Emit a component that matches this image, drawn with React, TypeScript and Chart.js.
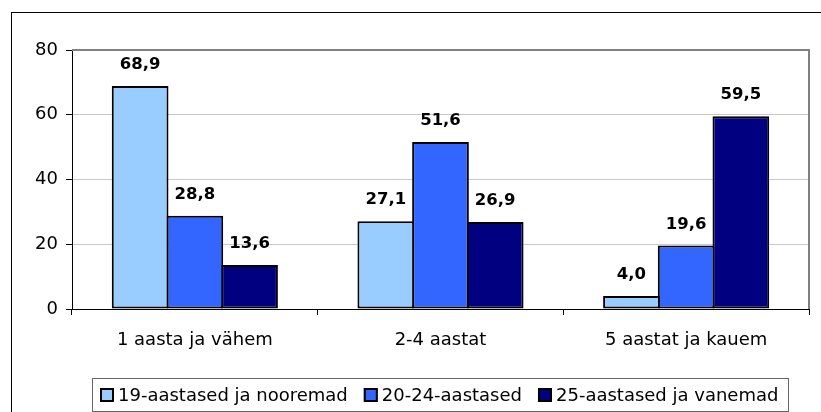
import React, { useEffect, useRef } from "react";
import { Chart, registerables } from "chart.js";

Chart.register(...registerables);

const categories = ["1 aasta ja vähem", "2-4 aastat", "5 aastat ja kauem"];
const seriesLabels = ["19-aastased ja nooremad", "20-24-aastased", "25-aastased ja vanemad"];
const youngValues = [68.9, 27.1, 4.0];
const midValues = [28.8, 51.6, 19.6];
const oldValues = [13.6, 26.9, 59.5];
const seriesColors = ["#99CCFF", "#3366FF", "#000080"];
const yMin = 0;
const yMax = 80;
const yStep = 20;

const FONT = "'DejaVu Sans', 'Liberation Sans', Arial, sans-serif";

const fmt = (v: number) => v.toFixed(1).replace(".", ",");

const framePlugin = {
  id: "frame",
  beforeDraw(chart: any) {
    const { ctx, width, height } = chart;
    ctx.save();
    ctx.fillStyle = "#fff";
    ctx.fillRect(0, 0, width, height);
    ctx.strokeStyle = "#000";
    ctx.lineWidth = 1;
    ctx.strokeRect(11.5, 12.5, width + 20, height + 20);
    ctx.restore();
  },
  beforeDatasetsDraw(chart: any) {
    const { ctx, chartArea } = chart;
    ctx.save();
    ctx.strokeStyle = "#808080";
    ctx.lineWidth = 2;
    ctx.beginPath();
    ctx.moveTo(chartArea.left, chartArea.top);
    ctx.lineTo(chartArea.right, chartArea.top);
    ctx.lineTo(chartArea.right, chartArea.bottom);
    ctx.stroke();
    ctx.restore();
  },
};

const labelPlugin = {
  id: "valueLabels",
  afterDatasetsDraw(chart: any) {
    const { ctx } = chart;
    ctx.save();
    ctx.font = `bold 16.5px ${FONT}`;
    ctx.fillStyle = "#000";
    ctx.textAlign = "center";
    ctx.textBaseline = "alphabetic";
    chart.data.datasets.forEach((ds: any, i: number) => {
      const meta = chart.getDatasetMeta(i);
      meta.data.forEach((bar: any, j: number) => {
        ctx.fillText(fmt(ds.data[j]), bar.x, bar.y - 17);
      });
    });
    ctx.restore();
  },
};

const legendPlugin = {
  id: "boxLegend",
  afterDraw(chart: any) {
    const { ctx, chartArea } = chart;
    const datasets = chart.data.datasets;
    ctx.save();
    ctx.font = `18px ${FONT}`;
    const sq = 14;
    const sqGap = 4;
    const itemGap = 16;
    const widths = datasets.map((d: any) => sq + sqGap + ctx.measureText(d.label).width);
    const content = widths.reduce((a: number, b: number) => a + b, 0) + itemGap * (datasets.length - 1);
    const padL = 8;
    const padR = 10;
    const boxW = content + padL + padR;
    const cx = (chartArea.left + chartArea.right) / 2;
    const boxLeft = Math.round(cx - boxW / 2);
    const boxTop = 378;
    const boxH = 33;
    ctx.strokeStyle = "#666";
    ctx.lineWidth = 1;
    ctx.strokeRect(boxLeft + 0.5, boxTop + 0.5, Math.round(boxW), boxH);
    const cy = boxTop + boxH / 2 + 0.5;
    let x = boxLeft + padL;
    datasets.forEach((d: any, i: number) => {
      ctx.fillStyle = d.backgroundColor;
      ctx.fillRect(x, cy - sq / 2, sq, sq);
      ctx.strokeStyle = "#000";
      ctx.lineWidth = 2;
      ctx.strokeRect(x + 1, cy - sq / 2 + 1, sq - 2, sq - 2);
      ctx.fillStyle = "#000";
      ctx.textAlign = "left";
      ctx.textBaseline = "middle";
      ctx.fillText(d.label, x + sq + sqGap, cy + 1);
      x += widths[i] + itemGap;
    });
    ctx.restore();
  },
};

export default function App() {
  const canvasRef = useRef<HTMLCanvasElement | null>(null);

  useEffect(() => {
    if (!canvasRef.current) return;
    const valueSets = [youngValues, midValues, oldValues];
    const chart = new Chart(canvasRef.current, {
      type: "bar",
      data: {
        labels: categories,
        datasets: seriesLabels.map((label, i) => ({
          label,
          data: valueSets[i],
          backgroundColor: seriesColors[i],
          borderColor: "#000",
          borderWidth: 2,
          borderSkipped: false,
          inflateAmount: 0,
          barPercentage: 1.037,
          categoryPercentage: 0.668,
        })),
      },
      options: {
        animation: false,
        responsive: false,
        devicePixelRatio: 1,
        layout: { padding: { left: 0, top: 50, right: 12, bottom: 63 } },
        plugins: {
          legend: { display: false },
          tooltip: { enabled: false },
          title: { display: false },
        },
        scales: {
          x: {
            grid: {
              drawOnChartArea: false,
              drawTicks: true,
              tickLength: 6,
              tickColor: "#000",
              offset: true,
            },
            border: { color: "#000", width: 1 },
            ticks: {
              color: "#000",
              font: { family: FONT, size: 18 },
              padding: 15,
              maxRotation: 0,
            },
            afterFit: (s: any) => {
              s.height = 40;
            },
          },
          y: {
            min: yMin,
            max: yMax,
            ticks: {
              stepSize: yStep,
              color: "#000",
              font: { family: FONT, size: 18 },
              padding: 8,
            },
            grid: {
              color: (c: any) => (c.tick && c.tick.value === yMax ? "rgba(0,0,0,0)" : "#c8c8c8"),
              tickColor: "#000",
              tickLength: 6,
              lineWidth: 1,
            },
            border: { color: "#000", width: 1 },
            afterFit: (s: any) => {
              s.width = 72;
            },
          },
        },
      },
      plugins: [framePlugin, labelPlugin, legendPlugin],
    });
    return () => chart.destroy();
  }, []);

  return (
    <div style={{ position: "absolute", left: 0, top: 0, width: 821, height: 412 }}>
      <canvas ref={canvasRef} width={821} height={412} style={{ width: 821, height: 412 }} />
    </div>
  );
}
